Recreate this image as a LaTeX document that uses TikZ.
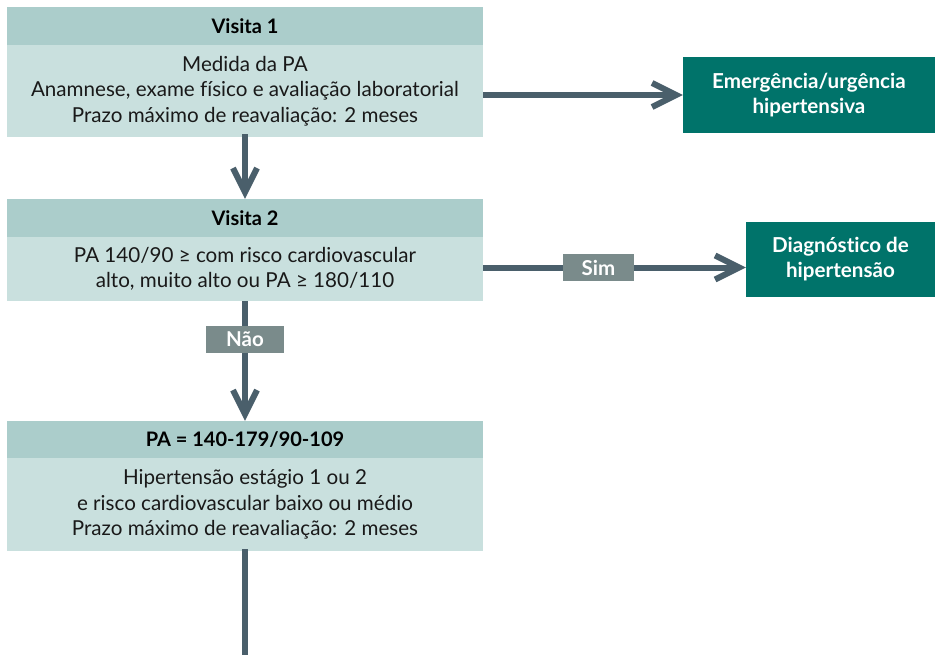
\documentclass[tikz,border=0pt]{standalone}
\usepackage{fontspec}
\setmainfont{Lato}[Ligatures=NoCommon]
\usetikzlibrary{arrows.meta}
\definecolor{hdr}{HTML}{ABCDCB}
\definecolor{bdy}{HTML}{C9E0DE}
\definecolor{dark}{HTML}{00736A}
\definecolor{arrc}{HTML}{4A5F6B}
\definecolor{lbl}{HTML}{7A8B8B}
\begin{document}
\begin{tikzpicture}[x=1pt,y=-1pt,
  hdrbox/.style={fill=hdr,draw=none,minimum width=476pt,inner sep=0pt,font=\fontsize{20}{24}\selectfont\bfseries,text=black},
  bdybox/.style={fill=bdy,draw=none,minimum width=476pt,inner sep=0pt,align=center,font=\fontsize{20.6}{25.5}\selectfont,text=black!90},
  darkbox/.style={fill=dark,draw=none,inner sep=0pt,align=center,text=white,font=\fontsize{20.6}{25}\selectfont\bfseries},
  lblbox/.style={fill=lbl,draw=none,inner sep=0pt,text=white,font=\fontsize{20.5}{22}\selectfont\bfseries},
  conn/.style={draw=arrc,line width=6pt},
  arr/.style={conn,-{Straight Barb[length=24pt,width=24pt]}}
]
\useasboundingbox (0,0) rectangle (937,655);
% Visita 1
\node[hdrbox,minimum height=38pt] (v1h) at (245,26) {Visita 1};
\node[bdybox,minimum height=92pt] (v1b) at (245,91) {Medida da PA\\Anamnese, exame físico e avaliação laboratorial\\Prazo máximo de reavaliação: 2 meses};
% Emergencia
\node[darkbox,minimum width=252pt,minimum height=76pt] (emerg) at (809,95) {Emergência/urgência\\hipertensiva};
% Visita 2
\node[hdrbox,minimum height=38pt] (v2h) at (245,218) {Visita 2};
\node[bdybox,minimum height=64pt] (v2b) at (245,269) {PA 140/90 ≥ com risco cardiovascular\\alto, muito alto ou PA ≥ 180/110};
% Sim / Diagnostico
\node[lblbox,minimum width=71pt,minimum height=27pt] (sim) at (598.5,267.5) {Sim};
\node[darkbox,minimum width=189pt,minimum height=75pt] (diag) at (840.5,259.5) {Diagnóstico de\\hipertensão};
% Nao
\node[lblbox,minimum width=78pt,minimum height=27pt] (nao) at (245,339.5) {Não};
% Box 3
\node[hdrbox,minimum height=37pt] (v3h) at (245,439.5) {PA = 140-179/90-109};
\node[bdybox,minimum height=93pt] (v3b) at (245,504.5) {Hipertensão estágio 1 ou 2\\e risco cardiovascular baixo ou médio\\Prazo máximo de reavaliação: 2 meses};
\coordinate (bottom) at (245,655);
% connectors
\draw[arr] (v1b.east |- emerg.west) -- (emerg.west);
\draw[arr] ([yshift=3pt]v1b.south) -- (v2h.north);
\draw[conn] (v2b.east |- sim.west) -- (sim.west);
\draw[arr] (sim.east) -- (diag.west |- sim.east);
\draw[conn] (v2b.south) -- (nao.north);
\draw[arr] (nao.south) -- (v3h.north);
\draw[conn] ([yshift=2pt]v3b.south) -- (bottom);
\end{tikzpicture}
\end{document}
